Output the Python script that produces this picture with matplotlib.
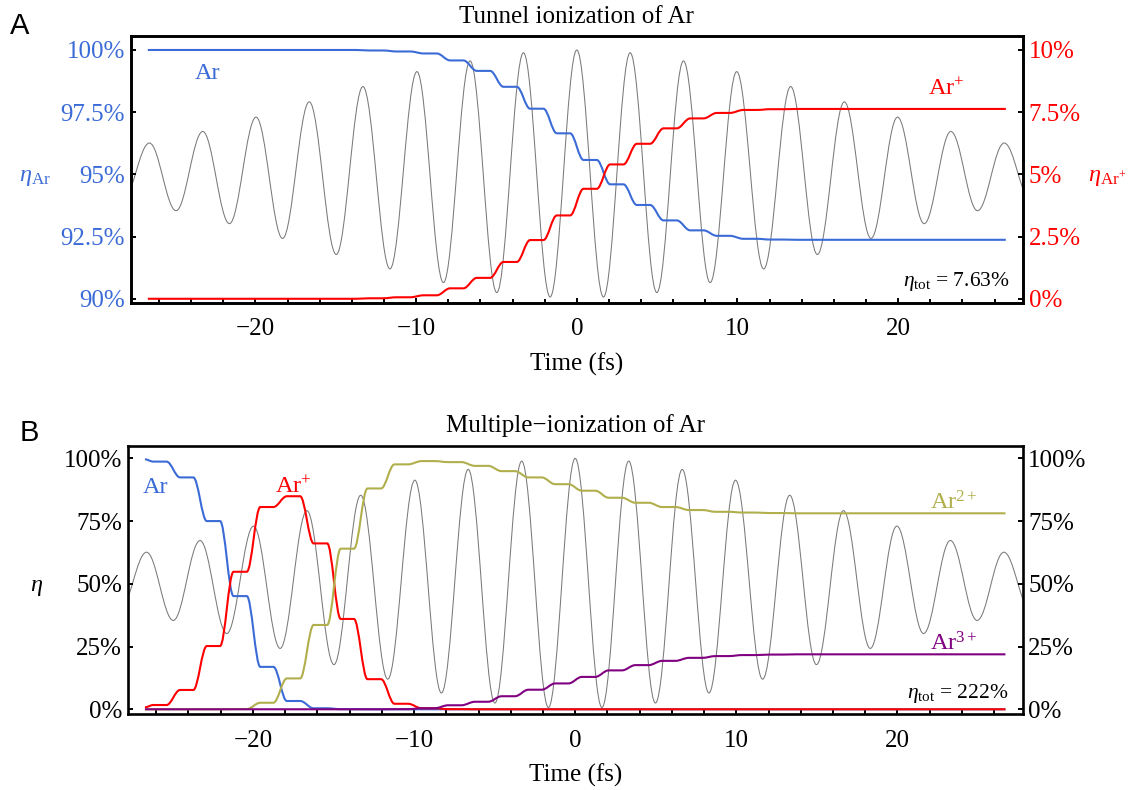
"""Tunnel / multiple ionization of Ar: two-panel step plot over the laser field."""
import matplotlib
matplotlib.use('Agg')
import matplotlib.pyplot as plt
from matplotlib.path import Path
from matplotlib.patches import PathPatch

plt.rcParams['font.family'] = ['Liberation Serif', 'DejaVu Serif']
plt.rcParams['mathtext.fontset'] = 'custom'
plt.rcParams['mathtext.rm'] = 'Liberation Serif'
plt.rcParams['mathtext.it'] = 'Liberation Serif:italic'

BLUE = '#3b6bd6'
RED = '#ff0000'
OLIVE = '#b0af4c'
PURPLE = '#800080'
GRAY = '#7a7a7a'

# laser field: times (fs) and normalized values of the extrema
field_t = [-28.26, -26.60, -24.94, -23.28, -21.62, -19.96, -18.31, -16.65, -14.97,
           -13.31, -11.63, -9.95, -8.30, -6.64, -4.98, -3.32, -1.66, 0.0,
           1.66, 3.32, 4.98, 6.64, 8.30, 9.95, 11.63, 13.31, 14.97, 16.65,
           18.31, 19.96, 21.62, 23.28, 24.94, 26.60, 28.26]
field_e = [-0.21, 0.252, -0.292, 0.345, -0.396, 0.46, -0.515, 0.583, -0.644,
           0.706, -0.76, 0.826, -0.87, 0.912, -0.95, 0.978, -0.986, 1.0,
           -0.986, 0.978, -0.95, 0.912, -0.87, 0.826, -0.76, 0.706, -0.644, 0.583,
           -0.515, 0.46, -0.396, 0.345, -0.292, 0.252, -0.21]

t_start, t_end = -26.7, 26.7

# panel A: step times (fs) and population after each step (%)
steps_a = [-13.31, -11.63, -9.95, -8.30, -6.64, -4.98, -3.32, -1.66, 0.0,
           1.66, 3.32, 4.98, 6.64, 8.30, 9.95, 11.63, 13.31]
ar_a = [100.0, 99.98, 99.94, 99.86, 99.58, 99.16, 98.52, 97.64, 96.65, 95.58,
        94.60, 93.77, 93.15, 92.75, 92.53, 92.41, 92.38, 92.37]
arp_a = [0.0, 0.02, 0.06, 0.14, 0.42, 0.84, 1.48, 2.36, 3.35, 4.42,
         5.40, 6.23, 6.85, 7.25, 7.47, 7.59, 7.62, 7.63]

# panel B
steps_b = [-26.60, -24.94, -23.28, -21.62, -19.96, -18.31, -16.65, -14.97, -13.31,
           -11.63, -9.95, -8.30, -6.64, -4.98, -3.32, -1.66, 0.0, 1.66, 3.32,
           4.98, 6.64, 8.30, 9.95, 11.63, 13.31]
ar_b = [99.6, 98.7, 92.4, 75.0, 45.1, 16.9, 3.3, 0.4, 0.05, 0.0, 0.0, 0.0, 0.0,
        0.0, 0.0, 0.0, 0.0, 0.0, 0.0, 0.0, 0.0, 0.0, 0.0, 0.0, 0.0, 0.0]
arp_b = [0.8, 1.7, 7.7, 25.2, 54.8, 80.6, 84.9, 66.1, 36.0, 12.0, 2.2, 0.4, 0.05,
         0.0, 0.0, 0.0, 0.0, 0.0, 0.0, 0.0, 0.0, 0.0, 0.0, 0.0, 0.0, 0.0]
ar2p_b = [0.0, 0.0, 0.0, 0.0, 0.1, 2.6, 12.3, 33.6, 64.0, 88.0, 97.6, 98.9, 98.5,
          97.0, 94.9, 92.4, 89.7, 87.1, 84.3, 82.3, 80.6, 79.4, 78.7, 78.4, 78.2, 78.1]
ar3p_b = [0.0, 0.0, 0.0, 0.0, 0.0, 0.0, 0.0, 0.0, 0.0, 0.0, 0.05, 0.4, 1.6,
          3.0, 5.2, 7.8, 10.3, 12.9, 15.5, 17.6, 19.3, 20.5, 21.2, 21.6, 21.8, 21.9]


def smooth_path(ts, ys, a=0.364):
    """Cubic Bezier through knots with flat tangents at each knot."""
    verts = [(ts[0], ys[0])]
    codes = [Path.MOVETO]
    for t0, y0, t1, y1 in zip(ts[:-1], ys[:-1], ts[1:], ys[1:]):
        d = a * (t1 - t0)
        verts += [(t0 + d, y0), (t1 - d, y1), (t1, y1)]
        codes += [Path.CURVE4] * 3
    return Path(verts, codes)


def step_knots(steps, levels, w=0.42):
    ts, ys = [t_start], [levels[0]]
    for tk, before, after in zip(steps, levels[:-1], levels[1:]):
        pre = max(tk - w, ts[-1])
        if pre > ts[-1]:
            ts.append(pre)
            ys.append(before)
        ts.append(tk + w)
        ys.append(after)
    ts.append(t_end)
    ys.append(levels[-1])
    return ts, ys


def draw(ax, ts, ys, color, lw, z):
    ax.add_patch(PathPatch(smooth_path(ts, ys), fill=False, edgecolor=color,
                           lw=lw, zorder=z, capstyle='butt'))


def style_axes(ax):
    for sp in ax.spines.values():
        sp.set_linewidth(1.9)
    ax.set_xlim(-27.77, 27.77)
    ax.set_xticks([-20, -10, 0, 10, 20])
    ax.set_xticks([v for v in range(-26, 27, 2) if v % 10], minor=True)
    ax.tick_params(axis='x', which='both', direction='in', top=False, pad=11,
                   labelsize=18, width=1.4)
    ax.tick_params(axis='x', which='major', length=3.5)
    ax.tick_params(axis='x', which='minor', length=3.0)
    ax.tick_params(axis='y', direction='in', length=3.8, width=1.4, pad=4, labelsize=18)
    ax.set_xlabel('Time (fs)', fontsize=18, labelpad=9)


W, H = 1135, 790
fig = plt.figure(figsize=(W / 100, H / 100), dpi=100)

# ---- panel A
axA = fig.add_axes([130.6 / W, 1 - 303 / H, (1023 - 130.6) / W, (303 - 36.3) / H])
axA2 = axA.twinx()
style_axes(axA)
axA.set_ylim(89.83, 100.55)
axA2.set_ylim(-0.17, 10.55)
axA.set_yticks([90, 92.5, 95, 97.5, 100])
axA.set_yticklabels(['90%', '92.5%', '95%', '97.5%', '100%'], color=BLUE)
axA2.set_yticks([0, 2.5, 5, 7.5, 10])
axA2.set_yticklabels(['0%', '2.5%', '5%', '7.5%', '10%'], color=RED)
axA2.tick_params(axis='y', direction='in', length=3.8, width=1.4, pad=4, labelsize=18)
for sp in axA2.spines.values():
    sp.set_linewidth(1.9)

draw(axA, field_t, [95 + 5 * e for e in field_e], GRAY, 0.75, 1)
draw(axA, *step_knots(steps_a, ar_a), BLUE, 1.5, 3)
draw(axA2, *step_knots(steps_a, arp_a), RED, 1.5, 3)
axA.set_title('Tunnel ionization of Ar', fontsize=18, pad=9.8)

axA.text(-22.96, 98.84, 'Ar', color=BLUE, fontsize=17.5, ha='center', va='baseline')
axA2.text(23.0, 8.19, 'Ar$^{+}$', color=RED, fontsize=17.5, ha='center', va='baseline')
axA.text(0.985, 0.079, r'$\eta_{\mathrm{tot}}$ = 7.63%', transform=axA.transAxes,
         fontsize=15.5, ha='right', va='center')

fig.text(35.3 / W, 1 - 177 / H, r'$\eta_{\mathrm{Ar}}$', color=BLUE, fontsize=17.5,
         ha='center', va='center')
fig.text(1107.5 / W, 1 - 178 / H, r'$\eta_{\mathrm{Ar}^{+}}$', color=RED, fontsize=17.5,
         ha='center', va='center')

# ---- panel B
axB = fig.add_axes([127.7 / W, 1 - 714.3 / H, (1022.7 - 127.7) / W, (714.3 - 446.3) / H])
style_axes(axB)
axB.set_ylim(-2.0, 104.8)
axB.set_yticks([0, 25, 50, 75, 100])
axB.set_yticklabels(['0%', '25%', '50%', '75%', '100%'])
axB.tick_params(axis='y', right=True, labelright=True)

draw(axB, field_t, [50 + 50 * e for e in field_e], GRAY, 0.75, 1)
draw(axB, *step_knots(steps_b, ar_b), BLUE, 1.5, 3)
draw(axB, *step_knots(steps_b, arp_b), RED, 1.5, 3.1)
draw(axB, *step_knots(steps_b, ar2p_b), OLIVE, 1.5, 3.2)
draw(axB, *step_knots(steps_b, ar3p_b), PURPLE, 1.5, 3.3)
axB.set_title('Multiple\u2212ionization of Ar', fontsize=18, pad=10.5)

axB.text(-26.04, 86.1, 'Ar', color=BLUE, fontsize=17.5, ha='center', va='baseline')
axB.text(-17.5, 86.1, 'Ar$^{+}$', color=RED, fontsize=17.5, ha='center', va='baseline')
axB.text(23.5, 79.7, 'Ar$^{2+}$', color=OLIVE, fontsize=17.5, ha='center', va='baseline')
axB.text(23.5, 23.6, 'Ar$^{3+}$', color=PURPLE, fontsize=17.5, ha='center', va='baseline')
axB.text(0.984, 0.078, r'$\eta_{\mathrm{tot}}$ = 222%', transform=axB.transAxes,
         fontsize=15.5, ha='right', va='center')

fig.text(37 / W, 1 - 587 / H, r'$\eta$', fontsize=17.5, ha='center', va='center')

fig.text(20 / W, 1 - 25.6 / H, 'A', family='Liberation Sans', fontsize=21,
         ha='center', va='center')
fig.text(29 / W, 1 - 433 / H, 'B', family='Liberation Sans', fontsize=21,
         ha='center', va='center')

fig.savefig('out.png', dpi=100)
